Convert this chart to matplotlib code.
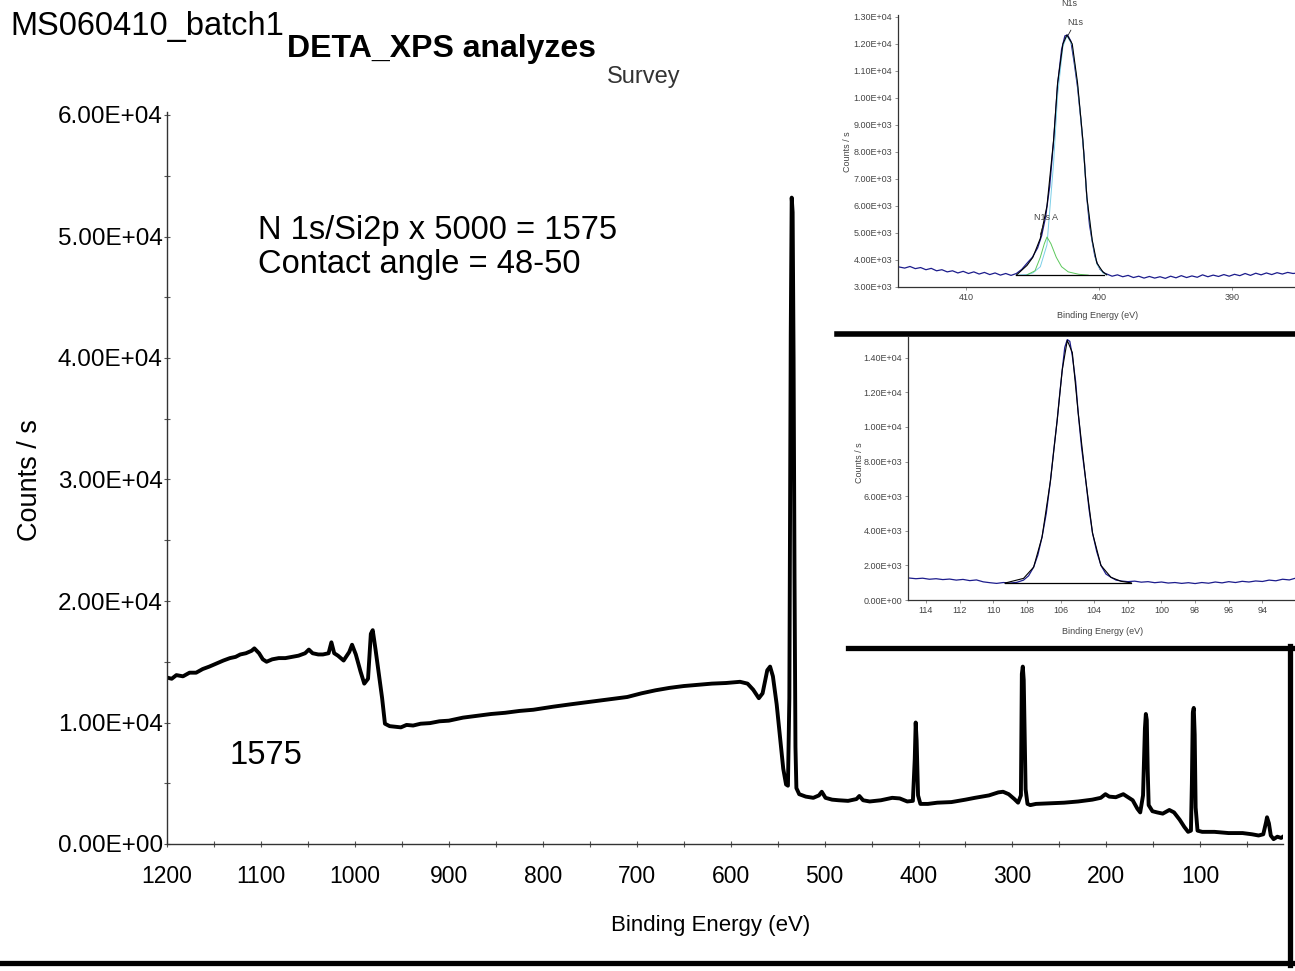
import matplotlib
matplotlib.use("Agg")
import matplotlib.pyplot as plt
from matplotlib.lines import Line2D
from matplotlib.ticker import MultipleLocator, FuncFormatter

plt.rcParams['font.family'] = ['Liberation Sans', 'DejaVu Sans']

# ---- survey spectrum (binding energy eV, counts/s) ----
survey_be = [1200, 1195, 1190, 1183, 1176, 1169, 1162, 1155, 1146, 1140, 1133, 1127,
             1122, 1116, 1110, 1107, 1102, 1098, 1094, 1088, 1081, 1074, 1067, 1060,
             1053, 1049, 1045, 1039, 1034, 1028, 1025, 1022, 1018, 1012, 1006, 1003,
             999, 994, 990, 986, 983, 981, 978, 975, 971, 968, 963, 957, 951, 945,
             938, 930, 920, 910, 900, 885, 870, 855, 840, 825, 810, 789, 770, 750,
             730, 710, 695, 680, 665, 650, 635, 620, 605, 590, 582, 576, 570, 566,
             561, 558, 555, 551, 547, 544, 541, 539, 537.5, 536, 535, 534, 533, 532,
             531, 530, 527, 520, 512, 506, 503, 499, 492, 485, 475, 466, 463, 459,
             452, 440, 428, 420, 412, 406, 404, 403, 402, 400.5, 398, 390, 380, 365,
             350, 340, 325, 315, 310, 304, 298, 294, 291, 290, 289, 288, 287, 286,
             284, 281, 275, 260, 245, 230, 215, 206, 201, 197, 190, 182, 178, 172,
             167, 164, 161, 159, 158, 157, 156, 155, 151, 146, 140, 133, 128, 122,
             117, 113, 110, 109, 108, 107, 106, 105, 103, 98, 85, 70, 55, 45, 38, 33,
             30, 29, 27, 25, 22, 18, 14, 12]
survey_counts = [13700, 13600, 13900, 13800, 14100, 14100, 14400, 14600, 14900, 15100,
                 15300, 15400, 15600, 15700, 15900, 16100, 15700, 15200, 15000, 15200,
                 15300, 15300, 15400, 15500, 15700, 16000, 15700, 15600, 15600, 15700,
                 16600, 15700, 15500, 15100, 15800, 16400, 15600, 14200, 13200, 13600,
                 17300, 17600, 16000, 14300, 12000, 9900, 9700, 9650, 9600, 9800, 9750,
                 9900, 9950, 10100, 10150, 10400, 10550, 10700, 10800, 10950, 11050,
                 11300, 11500, 11700, 11900, 12100, 12400, 12650, 12850, 13000, 13100,
                 13200, 13250, 13350, 13200, 12700, 12000, 12400, 14300, 14600, 13800,
                 11500, 8500, 6200, 4900, 4800, 12000, 42000, 53200, 52000, 40000,
                 22000, 8000, 4600, 4100, 3900, 3800, 4000, 4300, 3800, 3650, 3600,
                 3550, 3700, 3950, 3600, 3500, 3600, 3800, 3750, 3500, 3550, 7000,
                 10000, 8500, 4000, 3300, 3300, 3400, 3450, 3650, 3800, 4000, 4250,
                 4300, 4100, 3700, 3400, 4000, 14000, 14600, 13500, 9000, 4500, 3300,
                 3200, 3300, 3350, 3400, 3500, 3650, 3800, 4100, 3900, 3850, 4100,
                 3900, 3600, 2900, 2600, 4000, 9500, 10700, 10200, 6000, 3200, 2700,
                 2600, 2500, 2800, 2600, 2000, 1400, 1000, 1100, 5000, 10800, 11200,
                 9000, 3000, 1100, 1000, 1000, 900, 900, 800, 700, 800, 1800, 2200,
                 1700, 700, 400, 600, 500, 600]

# ---- N1s high resolution ----
n1s_be = [415.0, 414.6, 414.2, 413.8, 413.4, 413.0, 412.6, 412.2, 411.8, 411.4, 411.0,
          410.6, 410.2, 409.8, 409.4, 409.0, 408.6, 408.2, 407.8, 407.4, 407.0, 406.6,
          406.2, 405.8, 405.4, 405.0, 404.6, 404.3, 404.0, 403.7, 403.4, 403.1, 402.8,
          402.55, 402.35, 402.1, 401.85, 401.6, 401.35, 401.1, 400.9, 400.7, 400.5,
          400.3, 400.1, 399.9, 399.6, 399.3, 399.0, 398.6, 398.2, 397.8, 397.4, 397.0,
          396.6, 396.2, 395.8, 395.4, 395.0, 394.6, 394.2, 393.8, 393.4, 393.0, 392.6,
          392.2, 391.8, 391.4, 391.0, 390.6, 390.2, 389.8, 389.4, 389.0, 388.6, 388.2,
          387.8, 387.4, 387.0, 386.6, 386.2, 385.8, 385.4, 385.0, 384.6, 384.0]
n1s_counts = [3740, 3700, 3760, 3680, 3720, 3640, 3690, 3600, 3640, 3560, 3600, 3520,
              3580, 3500, 3560, 3480, 3540, 3460, 3520, 3440, 3500, 3430, 3500, 3650,
              3880, 4100, 4450, 4900, 5600, 6700, 8400, 10500, 11800, 12300, 12330,
              12100, 11300, 10400, 9200, 7800, 6300, 5300, 4700, 4150, 3850, 3650, 3520,
              3460, 3400, 3450, 3380, 3430, 3350, 3400, 3330, 3390, 3330, 3380, 3320,
              3400, 3340, 3420, 3350, 3410, 3360, 3450, 3380, 3440, 3390, 3460, 3400,
              3470, 3420, 3500, 3430, 3510, 3450, 3520, 3460, 3530, 3480, 3540, 3500,
              3520, 3480, 3530]
n1s_fit_be = [406.2, 405.4, 404.96, 404.4, 403.9, 403.4, 403.1, 402.7, 402.4, 402.0,
              401.6, 401.2, 400.9, 400.5, 400.15, 399.7, 399.4]
n1s_envelope = [3440, 3800, 4100, 4800, 6000, 8440, 10550, 12000, 12330, 12000, 10550,
                8440, 6330, 4740, 3890, 3560, 3450]
n1s_main = [3440, 3460, 3520, 3750, 4560, 7600, 10100, 11900, 12300, 11950, 10500,
            8400, 6300, 4700, 3850, 3520, 3450]
n1sa_be = [405.4, 404.8, 404.4, 404.1, 403.9, 403.6, 403.2, 402.8, 402.3, 401.5, 400.8]
n1sa_counts = [3450, 3600, 4100, 4600, 4850, 4600, 4100, 3750, 3560, 3470, 3440]
n1s_bg_be = [406.2, 399.6]
n1s_bg = [3440, 3440]

# ---- Si2p high resolution ----
si_be = [115.0, 114.6, 114.2, 113.8, 113.4, 113.0, 112.6, 112.2, 111.8, 111.4, 111.0,
         110.6, 110.2, 109.8, 109.4, 109.0, 108.6, 108.2, 107.9, 107.6, 107.35, 107.1,
         106.85, 106.6, 106.4, 106.2, 106.05, 105.9, 105.75, 105.6, 105.45, 105.3,
         105.1, 104.95, 104.75, 104.5, 104.3, 104.1, 103.85, 103.6, 103.3, 103.0,
         102.7, 102.4, 102.0, 101.6, 101.2, 100.8, 100.4, 100.0, 99.6, 99.2, 98.8,
         98.4, 98.0, 97.6, 97.2, 96.8, 96.4, 96.0, 95.6, 95.2, 94.8, 94.4, 94.0, 93.6,
         93.2, 92.8, 92.4, 92.0, 91.4]
si_counts = [1270, 1230, 1260, 1200, 1230, 1180, 1210, 1150, 1190, 1120, 1160, 1050,
             1000, 960, 1010, 980, 1020, 1150, 1400, 1900, 2600, 3640, 5000, 6900,
             8700, 10400, 11900, 13300, 14600, 15050, 14950, 14100, 12600, 10800, 8800,
             6900, 5200, 3870, 2800, 2000, 1500, 1310, 1150, 1100, 1060, 1090, 1030,
             1060, 1000, 1040, 980, 1010, 960, 1000, 950, 1010, 970, 1040, 990, 1060,
             1010, 1080, 1040, 1100, 1070, 1150, 1110, 1200, 1160, 1270, 1250]
si_fit_be = [109.3, 108.2, 107.6, 107.1, 106.6, 106.2, 105.9, 105.6, 105.3, 104.95,
             104.5, 104.1, 103.6, 103.0, 102.4, 101.8]
si_envelope = [980, 1250, 1900, 3640, 6900, 10400, 13300, 15000, 14300, 10800, 6900,
               3870, 2000, 1310, 1080, 990]
si_bg_be = [109.3, 101.8]
si_bg = [980, 980]

# ---- tick values ----
survey_xticks = [1200, 1100, 1000, 900, 800, 700, 600, 500, 400, 300, 200, 100]
survey_yticks = [0, 10000, 20000, 30000, 40000, 50000, 60000]
n1s_xticks = [410, 400, 390]
n1s_yticks = [3000, 4000, 5000, 6000, 7000, 8000, 9000, 10000, 11000, 12000, 13000]
si_xticks = [114, 112, 110, 108, 106, 104, 102, 100, 98, 96, 94]
si_yticks = [0, 2000, 4000, 6000, 8000, 10000, 12000, 14000]

W, H = 1295, 971


def fx(px):
    return px / W


def fy(py):
    return 1 - py / H


sci = FuncFormatter(lambda v, p: "{:.2E}".format(v))

fig = plt.figure(figsize=(W / 100, H / 100), dpi=100)

# main survey axes
ax = fig.add_axes([fx(167), fy(844), fx(1283) - fx(167), (844 - 112) / H])
ax.plot(survey_be, survey_counts, color='black', lw=2.8, solid_joinstyle='round')
ax.set_xlim(1200, 12)
ax.set_ylim(0, 60000 * 732 / 729)
ax.set_xticks(survey_xticks)
ax.set_yticks(survey_yticks)
ax.xaxis.set_minor_locator(MultipleLocator(50))
ax.yaxis.set_minor_locator(MultipleLocator(5000))
ax.yaxis.set_major_formatter(sci)
for s in ['top', 'right']:
    ax.spines[s].set_visible(False)
for s in ['left', 'bottom']:
    ax.spines[s].set_color('#333333')
    ax.spines[s].set_linewidth(1.0)
ax.tick_params(which='both', direction='inout', length=4, width=0.8, color='#555555')
ax.tick_params(axis='y', labelsize=17.5, pad=1)
ax.tick_params(axis='x', labelsize=16.5, pad=13)
ax.patch.set_alpha(0)

fig.text(fx(30), fy(480), 'Counts / s', rotation=90, ha='center', va='center',
         fontsize=19.5)
fig.text(fx(711), fy(925), 'Binding Energy (eV)', ha='center', va='center',
         fontsize=16)

fig.text(fx(10), fy(35), 'MS060410_batch1', fontsize=23.5, va='baseline')
fig.text(fx(287), fy(57), 'DETA_XPS analyzes', fontsize=23, fontweight='bold',
         va='baseline')
fig.text(fx(644), fy(83), 'Survey', fontsize=17, color='#333333', ha='center',
         va='baseline')
fig.text(fx(258), fy(239), 'N 1s/Si2p x 5000 = 1575', fontsize=23.5, va='baseline')
fig.text(fx(258), fy(273), 'Contact angle = 48-50', fontsize=23.5, va='baseline')
fig.text(fx(230), fy(764), '1575', fontsize=23.5, va='baseline')

small = 6.5
grey = '#444444'

# N1s inset
ax1 = fig.add_axes([fx(898), fy(287), (33.1 * 13.3) / W, (287 - 15) / H], zorder=2)
ax1.plot(n1s_be, n1s_counts, color='#1c1c8c', lw=0.9)
ax1.plot(n1s_fit_be, n1s_main, color='#7ccfe8', lw=0.7)
ax1.plot(n1sa_be, n1sa_counts, color='#5cc85c', lw=0.7)
ax1.plot(n1s_fit_be, n1s_envelope, color='black', lw=0.8)
ax1.plot(n1s_bg_be, n1s_bg, color='black', lw=0.9)
ax1.set_xlim(415.1, 382.0)
ax1.set_ylim(3000, 13070)
ax1.set_xticks(n1s_xticks)
ax1.set_yticks(n1s_yticks)
ax1.yaxis.set_major_formatter(sci)
ax1.annotate('N1s', xy=(402.3, 12330), xytext=(401.8, 12780), fontsize=small,
             color=grey, ha='center', va='center',
             arrowprops=dict(arrowstyle='-', lw=0.6, color='#222222', shrinkA=0,
                             shrinkB=0))
ax1.annotate('N1s A', xy=(404.4, 4930), xytext=(404.0, 5590), fontsize=small,
             color=grey, ha='center', va='center',
             arrowprops=dict(arrowstyle='-', lw=0.6, color='#222222', shrinkA=0,
                             shrinkB=0))

# Si2p inset
ax2 = fig.add_axes([fx(908), fy(600), (25.1 * 16.8) / W, (600 - 337) / H], zorder=2)
ax2.plot(si_be, si_counts, color='#1c1c8c', lw=0.9)
ax2.plot(si_fit_be, si_envelope, color='black', lw=0.8)
ax2.plot(si_bg_be, si_bg, color='black', lw=0.9)
ax2.set_xlim(115.07, 90.0)
ax2.set_ylim(0, 15200)
ax2.set_xticks(si_xticks)
ax2.set_yticks(si_yticks)
ax2.yaxis.set_major_formatter(sci)

for a in (ax1, ax2):
    for s in ['top', 'right']:
        a.spines[s].set_visible(False)
    for s in ['left', 'bottom']:
        a.spines[s].set_color('#333333')
        a.spines[s].set_linewidth(0.9)
    a.tick_params(length=2, width=0.5, color='#666666', labelsize=small,
                  labelcolor=grey, pad=2)

fig.text(fx(1069), fy(4), 'N1s', fontsize=small, color=grey, ha='center', va='center')
fig.text(fx(848), fy(152), 'Counts / s', rotation=90, fontsize=small, color=grey,
         ha='center', va='center')
fig.text(fx(1098), fy(315), 'Binding Energy (eV)', fontsize=small, color=grey,
         ha='center', va='center')
fig.text(fx(859), fy(463), 'Counts / s', rotation=90, fontsize=small, color=grey,
         ha='center', va='center')
fig.text(fx(1103), fy(632), 'Binding Energy (eV)', fontsize=small, color=grey,
         ha='center', va='center')

# black frame lines of the slide
frame = [([837, 1295], [334, 334], 4.0),
         ([848, 1292], [648, 648], 3.8),
         ([1290, 1290], [646, 965], 3.8),
         ([0, 1292], [963, 963], 3.8)]
for xs, ys, lw in frame:
    fig.add_artist(Line2D([fx(v) for v in xs], [fy(v) for v in ys], color='black',
                          lw=lw, transform=fig.transFigure, zorder=5))

fig.savefig('out.png', dpi=100, facecolor='white')
